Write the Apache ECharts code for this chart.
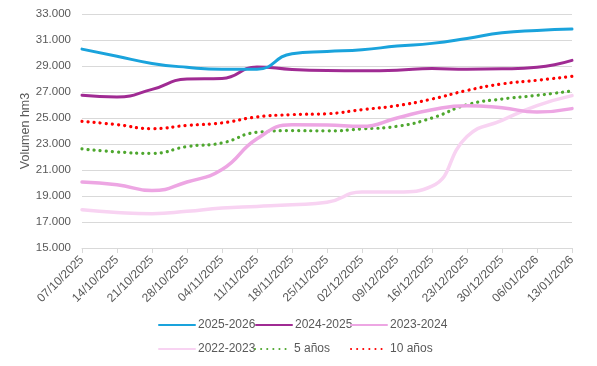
<!DOCTYPE html>
<html>
<head>
<meta charset="utf-8">
<script src="https://cdn.jsdelivr.net/npm/echarts@6/dist/echarts.min.js"></script>
<style>html,body{margin:0;padding:0;background:#fff}#c{width:597px;height:366px}</style>
</head>
<body>
<div id="c"></div>
<script>
const categories = ['07/10/2025','14/10/2025','21/10/2025','28/10/2025','04/11/2025','11/11/2025','18/11/2025','25/11/2025','02/12/2025','09/12/2025','16/12/2025','23/12/2025','30/12/2025','06/01/2026','13/01/2026'];
const s2025_2026 = [30300,29750,29200,28900,28750,28750,29950,30120,30250,30530,30740,31120,31560,31740,31850];
const s2024_2025 = [26750,26620,27200,28000,28040,28930,28730,28650,28640,28680,28800,28750,28780,28900,29430];
const s2023_2024 = [20080,19870,19420,20080,21030,23400,24480,24460,24360,25000,25640,25950,25780,25460,25720];
const s2022_2023 = [17950,17740,17640,17820,18080,18200,18330,18520,19310,19310,19760,23580,24820,25950,26720];
const s5anos = [22620,22390,22280,22800,23080,23900,24030,24010,24160,24360,25000,26020,26460,26740,27080];
const s10anos = [24740,24490,24180,24430,24620,25080,25260,25330,25640,25950,26460,27120,27620,27900,28200];
const yTicks = {min:15000, max:33000, interval:2000};

const names = ['2025-2026','2024-2025','2023-2024','2022-2023','5 años','10 años'];
const values = [s2025_2026,s2024_2025,s2023_2024,s2022_2023,s5anos,s10anos];
const colors = ['#1AA3DC','#A02B93','#EDA6E3','#F8D3F2','#4EA72E','#FF0000'];
const widths = [3,3,3.5,3.5,3.2,3.2];
const dotted = [false,false,false,false,true,true];

const fmt = v => String(v).replace(/\B(?=(\d{3})+(?!\d))/g,'.');

const legendPos = [[158,319],[255,319],[350,319],[158,343],[254,343],[350,343]];
const legends = names.map((n,i)=>({
  data:[n], left:legendPos[i][0], top:legendPos[i][1], itemWidth:36, itemHeight:12,
  padding:0, itemStyle:{opacity:0},
  textStyle:{color:'#595959', fontSize:12, fontFamily:'Liberation Sans, Arial', padding:[0,0,0,-2]},
  selectedMode:false
}));

const series = names.map((n,i)=>({
  name:n, type:'line', data:values[i], smooth:0.5, symbol:'none', z: 10-i,
  lineStyle: dotted[i] ? {color:colors[i], width:widths[i], type:[0.1,6], cap:'round'} : {color:colors[i], width:widths[i], cap:'round'},
  itemStyle:{color:colors[i]}
}));

const chart = echarts.init(document.getElementById('c'));
chart.setOption({
  animation:false,
  grid:{left:82, right:25, top:14, bottom:118, containLabel:false},
  legend: legends,
  xAxis:{type:'category', data:categories, boundaryGap:false,
    axisLine:{lineStyle:{color:'#D9D9D9', width:1}},
    axisTick:{show:true, alignWithLabel:true, length:5, lineStyle:{color:'#D9D9D9'}},
    axisLabel:{rotate:45, color:'#595959', fontSize:12, fontFamily:'Liberation Sans, Arial', interval:0, margin:10},
    splitLine:{show:false}},
  yAxis:{type:'value', min:yTicks.min, max:yTicks.max, interval:yTicks.interval,
    name:'Volumen hm3', nameLocation:'middle', nameGap:50, nameRotate:90, nameMoveOverlap:false,
    nameTextStyle:{color:'#595959', fontSize:12.5, fontFamily:'Liberation Sans, Arial'},
    axisLine:{show:false}, axisTick:{show:false},
    axisLabel:{color:'#595959', fontSize:11.5, fontFamily:'Liberation Sans, Arial', formatter:fmt, margin:11},
    splitLine:{lineStyle:{color:'#D9D9D9', width:1}}},
  series: series
});
</script>
</body>
</html>
